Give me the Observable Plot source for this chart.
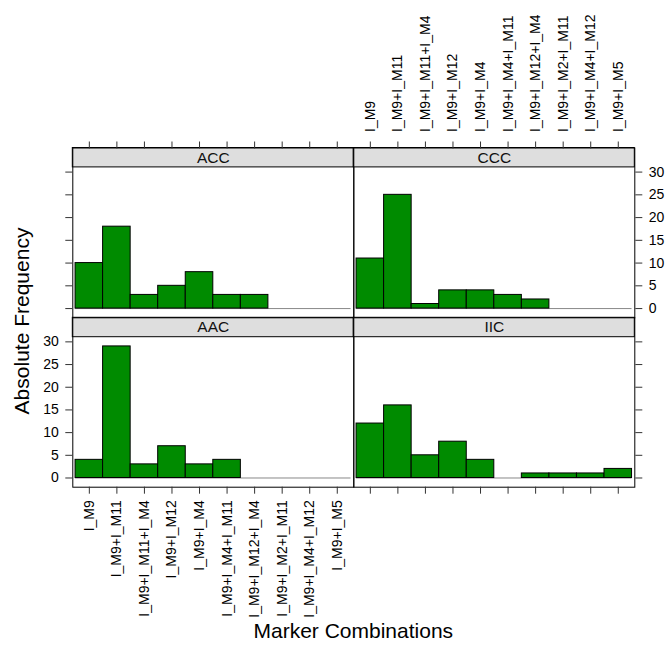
<!DOCTYPE html>
<html>
<head>
<meta charset="utf-8">
<script src="https://cdn.jsdelivr.net/npm/d3@7"></script>
<script src="https://cdn.jsdelivr.net/npm/@observablehq/plot@0.6"></script>
<style>
  body { margin: 0; background: #fff; }
  #chart { position: relative; width: 665px; height: 655px; font-family: "Liberation Sans", Arial, Helvetica, sans-serif; color: #000; }
  #chart svg { position: absolute; left: 0; top: 0; }
  .title { position: absolute; white-space: nowrap; font-size: 21px; line-height: 1; }
</style>
</head>
<body>
<div id="chart"></div>
<script>
// Marker combinations (x categories)
const combos = [
  "I_M9", "I_M9+I_M11", "I_M9+I_M11+I_M4", "I_M9+I_M12", "I_M9+I_M4",
  "I_M9+I_M4+I_M11", "I_M9+I_M12+I_M4", "I_M9+I_M2+I_M11", "I_M9+I_M4+I_M12", "I_M9+I_M5"
];
// Absolute frequency of each combination, per group
const accCounts = [10, 18, 3, 5, 8, 3, 3, 0, 0, 0];
const cccCounts = [11, 25, 1, 4, 4, 3, 2, 0, 0, 0];
const aacCounts = [4, 29, 3, 7, 3, 4, 0, 0, 0, 0];
const iicCounts = [12, 16, 5, 8, 4, 0, 1, 1, 1, 2];
const yTicks = [0, 5, 10, 15, 20, 25, 30];

// Page and panel layout
const W = 665, H = 655;
const colEdges = [[72.3, 353.3], [353.3, 634.3]];
const rowEdges = [[147.5, 317.3], [317.3, 486.7]];
const stripH = 19.4;
const barFill = "#008B00";
const stripFill = "#DEDEDE";
const tickColor = "#333";
const fontFamily = '"Liberation Sans", Arial, Helvetica, sans-serif';

const panels = [
  {name: "ACC", counts: accCounts, col: 0, row: 0, yAnchor: "left",  xAnchor: "top",    labels: false},
  {name: "CCC", counts: cccCounts, col: 1, row: 0, yAnchor: "right", xAnchor: "top",    labels: true},
  {name: "AAC", counts: aacCounts, col: 0, row: 1, yAnchor: "left",  xAnchor: "bottom", labels: true},
  {name: "IIC", counts: iicCounts, col: 1, row: 1, yAnchor: "right", xAnchor: "bottom", labels: false}
];

const n = combos.length;
const xDomain = [0.4, n + 0.6];
const yMax = d3.max(panels.flatMap(p => p.counts));
const yLo = -0.07 * yMax, yHi = 1.07 * yMax;

const chart = document.getElementById("chart");

for (const p of panels) {
  const [x0, x1] = colEdges[p.col];
  const [y0, y1] = rowEdges[p.row];
  const dataH = (y1 - y0) - stripH;
  const stripUnits = stripH / dataH * (yHi - yLo);
  const rows = combos.map((c, i) => ({combo: c, i: i + 1, count: p.counts[i]}));

  const svg = Plot.plot({
    width: W,
    height: H,
    marginLeft: x0,
    marginRight: W - x1,
    marginTop: y0,
    marginBottom: H - y1,
    x: {domain: xDomain, axis: null},
    y: {domain: [yLo, yHi + stripUnits], axis: null},
    style: {background: "transparent", fontFamily, fontSize: "14px", color: "#000", overflow: "visible"},
    marks: [
      // strip with the group name
      Plot.rect([p.name], {x1: xDomain[0], x2: xDomain[1], y1: yHi, y2: yHi + stripUnits, fill: stripFill, stroke: "#000"}),
      Plot.text([p.name], {x: (xDomain[0] + xDomain[1]) / 2, y: yHi + stripUnits / 2, text: d => d, fontSize: 15.5, fontWeight: "normal", fill: "#111"}),
      // zero reference line
      Plot.ruleY([0], {x1: 0.5, x2: n + 0.5, stroke: "#888"}),
      // bars
      Plot.rect(rows, {x1: d => d.i - 0.5, x2: d => d.i + 0.5, y1: 0, y2: "count", fill: barFill, stroke: "#000", strokeWidth: 1}),
      Plot.frame({stroke: "#000"}),
      Plot.axisY(yTicks, {
        anchor: p.yAnchor, tickSize: 7, tickPadding: 7, stroke: tickColor, label: null,
        tickFormat: d => p.labels ? String(d) : ""
      }),
      Plot.axisX(d3.range(1, n + 1), {
        anchor: p.xAnchor, tickSize: 7, tickPadding: p.xAnchor === "top" ? 9 : 6, tickRotate: -90, stroke: tickColor, label: null,
        tickFormat: i => p.labels ? combos[i - 1] : ""
      })
    ]
  });
  chart.appendChild(svg);
}

// Axis titles
const ylab = document.createElement("div");
ylab.className = "title";
ylab.textContent = "Absolute Frequency";
ylab.style.left = "21px";
ylab.style.top = "321px";
ylab.style.transform = "translate(-50%, -50%) rotate(-90deg)";
chart.appendChild(ylab);

const xlab = document.createElement("div");
xlab.className = "title";
xlab.textContent = "Marker Combinations";
xlab.style.left = ((colEdges[0][0] + colEdges[1][1]) / 2) + "px";
xlab.style.top = "630px";
xlab.style.transform = "translate(-50%, -50%)";
chart.appendChild(xlab);
</script>
</body>
</html>
